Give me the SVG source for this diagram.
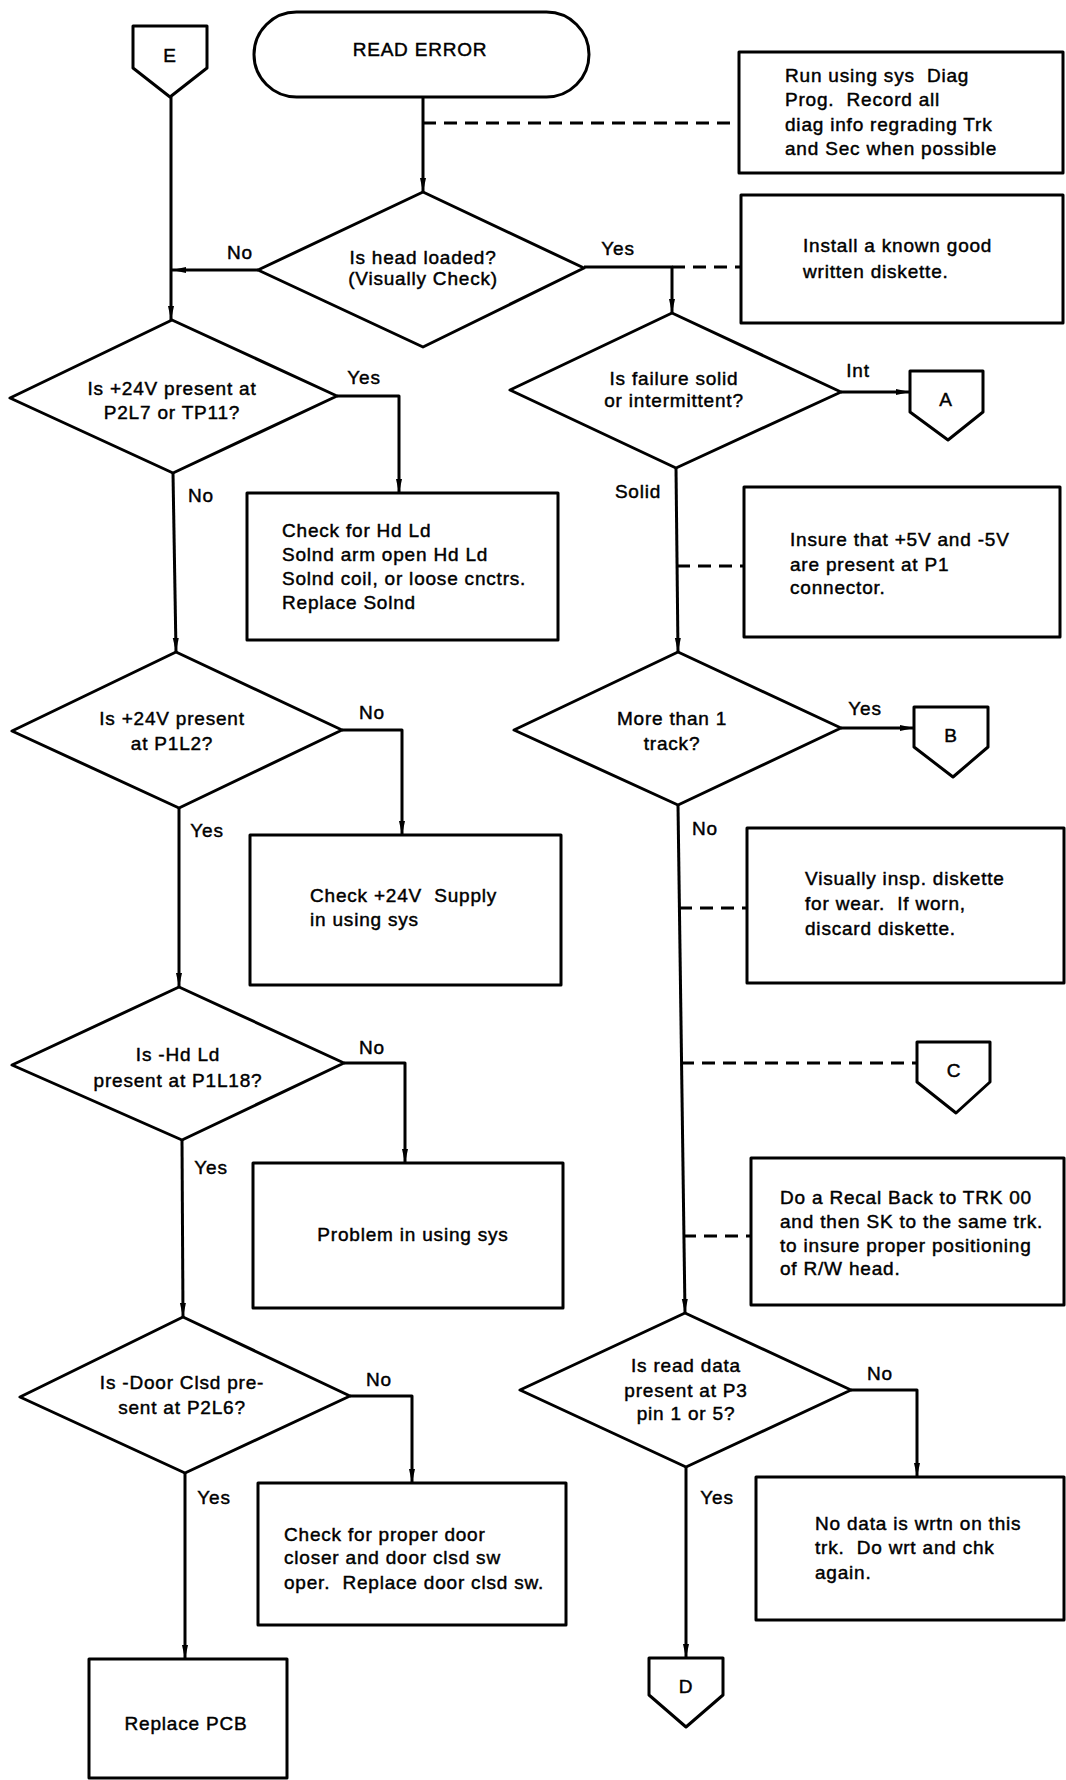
<svg xmlns="http://www.w3.org/2000/svg" width="1066" height="1780" viewBox="0 0 1066 1780">
<style>
  .s{fill:#fff;stroke:#000;stroke-width:3;stroke-linejoin:round}
  .c{fill:none;stroke:#000;stroke-width:3;stroke-linejoin:round}
  .d{fill:none;stroke:#000;stroke-width:3;stroke-dasharray:13 8}
  text{font-family:"Liberation Sans",Arial,sans-serif;font-size:19px;letter-spacing:0.8px;fill:#000;stroke:#000;stroke-width:0.45px}
  .m{text-anchor:middle}
</style>
<defs>
  <marker id="ah" viewBox="0 0 14 8" refX="14" refY="4" markerWidth="14" markerHeight="8" markerUnits="userSpaceOnUse" orient="auto">
    <path d="M0,1 L14,4 L0,7 z" fill="#000"/>
  </marker>
</defs>
<rect width="1066" height="1780" fill="#fff"/>

<g id="connectors">
  <path class="c" d="M423,97 V192" marker-end="url(#ah)"/>
  <path class="d" d="M423,123 H739"/>
  <path class="c" d="M258,270 H172" marker-end="url(#ah)"/>
  <path class="c" d="M171,97 V320" marker-end="url(#ah)"/>
  <path class="c" d="M584,267 H672 V313" marker-end="url(#ah)"/>
  <path class="d" d="M672,267 H741"/>
  <path class="c" d="M337,396 H399 V493" marker-end="url(#ah)"/>
  <path class="c" d="M173,473 L176,652" marker-end="url(#ah)"/>
  <path class="c" d="M841,392 H910" marker-end="url(#ah)"/>
  <path class="c" d="M676,468 L678,652" marker-end="url(#ah)"/>
  <path class="d" d="M677,566 H744"/>
  <path class="c" d="M342,730 H402 V835" marker-end="url(#ah)"/>
  <path class="c" d="M179,808 V987" marker-end="url(#ah)"/>
  <path class="c" d="M841,728 H914" marker-end="url(#ah)"/>
  <path class="c" d="M678,805 L685,1313" marker-end="url(#ah)"/>
  <path class="d" d="M679,908 H747"/>
  <path class="d" d="M681,1063 H917"/>
  <path class="d" d="M683,1236 H751"/>
  <path class="c" d="M344,1063 H405 V1163" marker-end="url(#ah)"/>
  <path class="c" d="M182,1140 L183,1317" marker-end="url(#ah)"/>
  <path class="c" d="M350,1396 H412 V1483" marker-end="url(#ah)"/>
  <path class="c" d="M185,1473 V1659" marker-end="url(#ah)"/>
  <path class="c" d="M851,1390 H917 V1477" marker-end="url(#ah)"/>
  <path class="c" d="M686,1467 V1658" marker-end="url(#ah)"/>
  <text x="240" y="259" class="m">No</text>
  <text x="618" y="255" class="m">Yes</text>
  <text x="364" y="384" class="m">Yes</text>
  <text x="201" y="502" class="m">No</text>
  <text x="858" y="377" class="m">Int</text>
  <text x="638" y="498" class="m">Solid</text>
  <text x="372" y="719" class="m">No</text>
  <text x="207" y="837" class="m">Yes</text>
  <text x="865" y="715" class="m">Yes</text>
  <text x="705" y="835" class="m">No</text>
  <text x="372" y="1054" class="m">No</text>
  <text x="211" y="1174" class="m">Yes</text>
  <text x="379" y="1386" class="m">No</text>
  <text x="214" y="1504" class="m">Yes</text>
  <text x="880" y="1380" class="m">No</text>
  <text x="717" y="1504" class="m">Yes</text>
</g>

<g id="start">
  <rect class="s" x="254" y="12" width="335" height="85" rx="42.5" ry="42.5"/>
  <text x="420" y="56" class="m">READ ERROR</text>
</g>

<g id="connE">
  <path class="s" d="M133,26 H207 V68 L170,97 L133,68 Z"/>
  <text x="170" y="62" class="m">E</text>
</g>

<g id="note1">
  <rect class="s" x="739" y="52" width="324" height="121"/>
  <text x="785" y="82" xml:space="preserve">Run using sys  Diag</text>
  <text x="785" y="106" xml:space="preserve">Prog.  Record all</text>
  <text x="785" y="131">diag info regrading Trk</text>
  <text x="785" y="155">and Sec when possible</text>
</g>

<g id="q1">
  <path class="s" d="M423,192 L584,268 L423,347 L258,270 Z"/>
  <text x="423" y="264" class="m">Is head loaded?</text>
  <text x="423" y="285" class="m">(Visually Check)</text>
</g>

<g id="note2">
  <rect class="s" x="741" y="195" width="322" height="128"/>
  <text x="803" y="252">Install a known good</text>
  <text x="803" y="278">written diskette.</text>
</g>

<g id="q2">
  <path class="s" d="M172,320 L337,396 L173,473 L10,398 Z"/>
  <text x="172" y="395" class="m">Is +24V present at</text>
  <text x="172" y="419" class="m">P2L7 or TP11?</text>
</g>

<g id="q3">
  <path class="s" d="M672,313 L841,392 L676,468 L510,390 Z"/>
  <text x="674" y="385" class="m">Is failure solid</text>
  <text x="674" y="407" class="m">or intermittent?</text>
</g>

<g id="connA">
  <path class="s" d="M910,371 H983 V412 L948,440 L910,412 Z"/>
  <text x="946" y="406" class="m">A</text>
</g>

<g id="box3">
  <rect class="s" x="247" y="493" width="311" height="147"/>
  <text x="282" y="537">Check for Hd Ld</text>
  <text x="282" y="561">Solnd arm open Hd Ld</text>
  <text x="282" y="585">Solnd coil, or loose cnctrs.</text>
  <text x="282" y="609">Replace Solnd</text>
</g>

<g id="note3">
  <rect class="s" x="744" y="487" width="316" height="150"/>
  <text x="790" y="546">Insure that +5V and -5V</text>
  <text x="790" y="571">are present at P1</text>
  <text x="790" y="594">connector.</text>
</g>

<g id="q4">
  <path class="s" d="M176,652 L342,730 L179,808 L12,731 Z"/>
  <text x="172" y="725" class="m">Is +24V present</text>
  <text x="172" y="750" class="m">at P1L2?</text>
</g>

<g id="q5">
  <path class="s" d="M678,652 L841,728 L678,805 L514,730 Z"/>
  <text x="672" y="725" class="m">More than 1</text>
  <text x="672" y="750" class="m">track?</text>
</g>

<g id="connB">
  <path class="s" d="M914,707 H988 V747 L953,777 L914,747 Z"/>
  <text x="951" y="742" class="m">B</text>
</g>

<g id="box4">
  <rect class="s" x="250" y="835" width="311" height="150"/>
  <text x="310" y="902" xml:space="preserve">Check +24V  Supply</text>
  <text x="310" y="926">in using sys</text>
</g>

<g id="note4">
  <rect class="s" x="747" y="828" width="317" height="155"/>
  <text x="805" y="885">Visually insp. diskette</text>
  <text x="805" y="910" xml:space="preserve">for wear.  If worn,</text>
  <text x="805" y="935">discard diskette.</text>
</g>

<g id="q6">
  <path class="s" d="M179,987 L344,1063 L182,1140 L12,1065 Z"/>
  <text x="178" y="1061" class="m">Is -Hd Ld</text>
  <text x="178" y="1087" class="m">present at P1L18?</text>
</g>

<g id="connC">
  <path class="s" d="M917,1042 H990 V1082 L956,1113 L917,1082 Z"/>
  <text x="954" y="1077" class="m">C</text>
</g>

<g id="box7">
  <rect class="s" x="253" y="1163" width="310" height="145"/>
  <text x="413" y="1241" class="m">Problem in using sys</text>
</g>

<g id="note5">
  <rect class="s" x="751" y="1158" width="313" height="147"/>
  <text x="780" y="1204">Do a Recal Back to TRK 00</text>
  <text x="780" y="1228">and then SK to the same trk.</text>
  <text x="780" y="1252">to insure proper positioning</text>
  <text x="780" y="1275">of R/W head.</text>
</g>

<g id="q7">
  <path class="s" d="M183,1317 L350,1396 L185,1473 L20,1397 Z"/>
  <text x="182" y="1389" class="m">Is -Door Clsd pre-</text>
  <text x="182" y="1414" class="m">sent at P2L6?</text>
</g>

<g id="q8">
  <path class="s" d="M685,1313 L851,1390 L686,1467 L520,1390 Z"/>
  <text x="686" y="1372" class="m">Is read data</text>
  <text x="686" y="1397" class="m">present at P3</text>
  <text x="686" y="1420" class="m">pin 1 or 5?</text>
</g>

<g id="box8">
  <rect class="s" x="258" y="1483" width="308" height="142"/>
  <text x="284" y="1541">Check for proper door</text>
  <text x="284" y="1564">closer and door clsd sw</text>
  <text x="284" y="1589" xml:space="preserve">oper.  Replace door clsd sw.</text>
</g>

<g id="box11">
  <rect class="s" x="756" y="1477" width="308" height="143"/>
  <text x="815" y="1530">No data is wrtn on this</text>
  <text x="815" y="1554" xml:space="preserve">trk.  Do wrt and chk</text>
  <text x="815" y="1579">again.</text>
</g>

<g id="box9">
  <rect class="s" x="89" y="1659" width="198" height="119"/>
  <text x="186" y="1730" class="m">Replace PCB</text>
</g>

<g id="connD">
  <path class="s" d="M649,1658 H723 V1695 L686,1727 L649,1695 Z"/>
  <text x="686" y="1693" class="m">D</text>
</g>
</svg>
